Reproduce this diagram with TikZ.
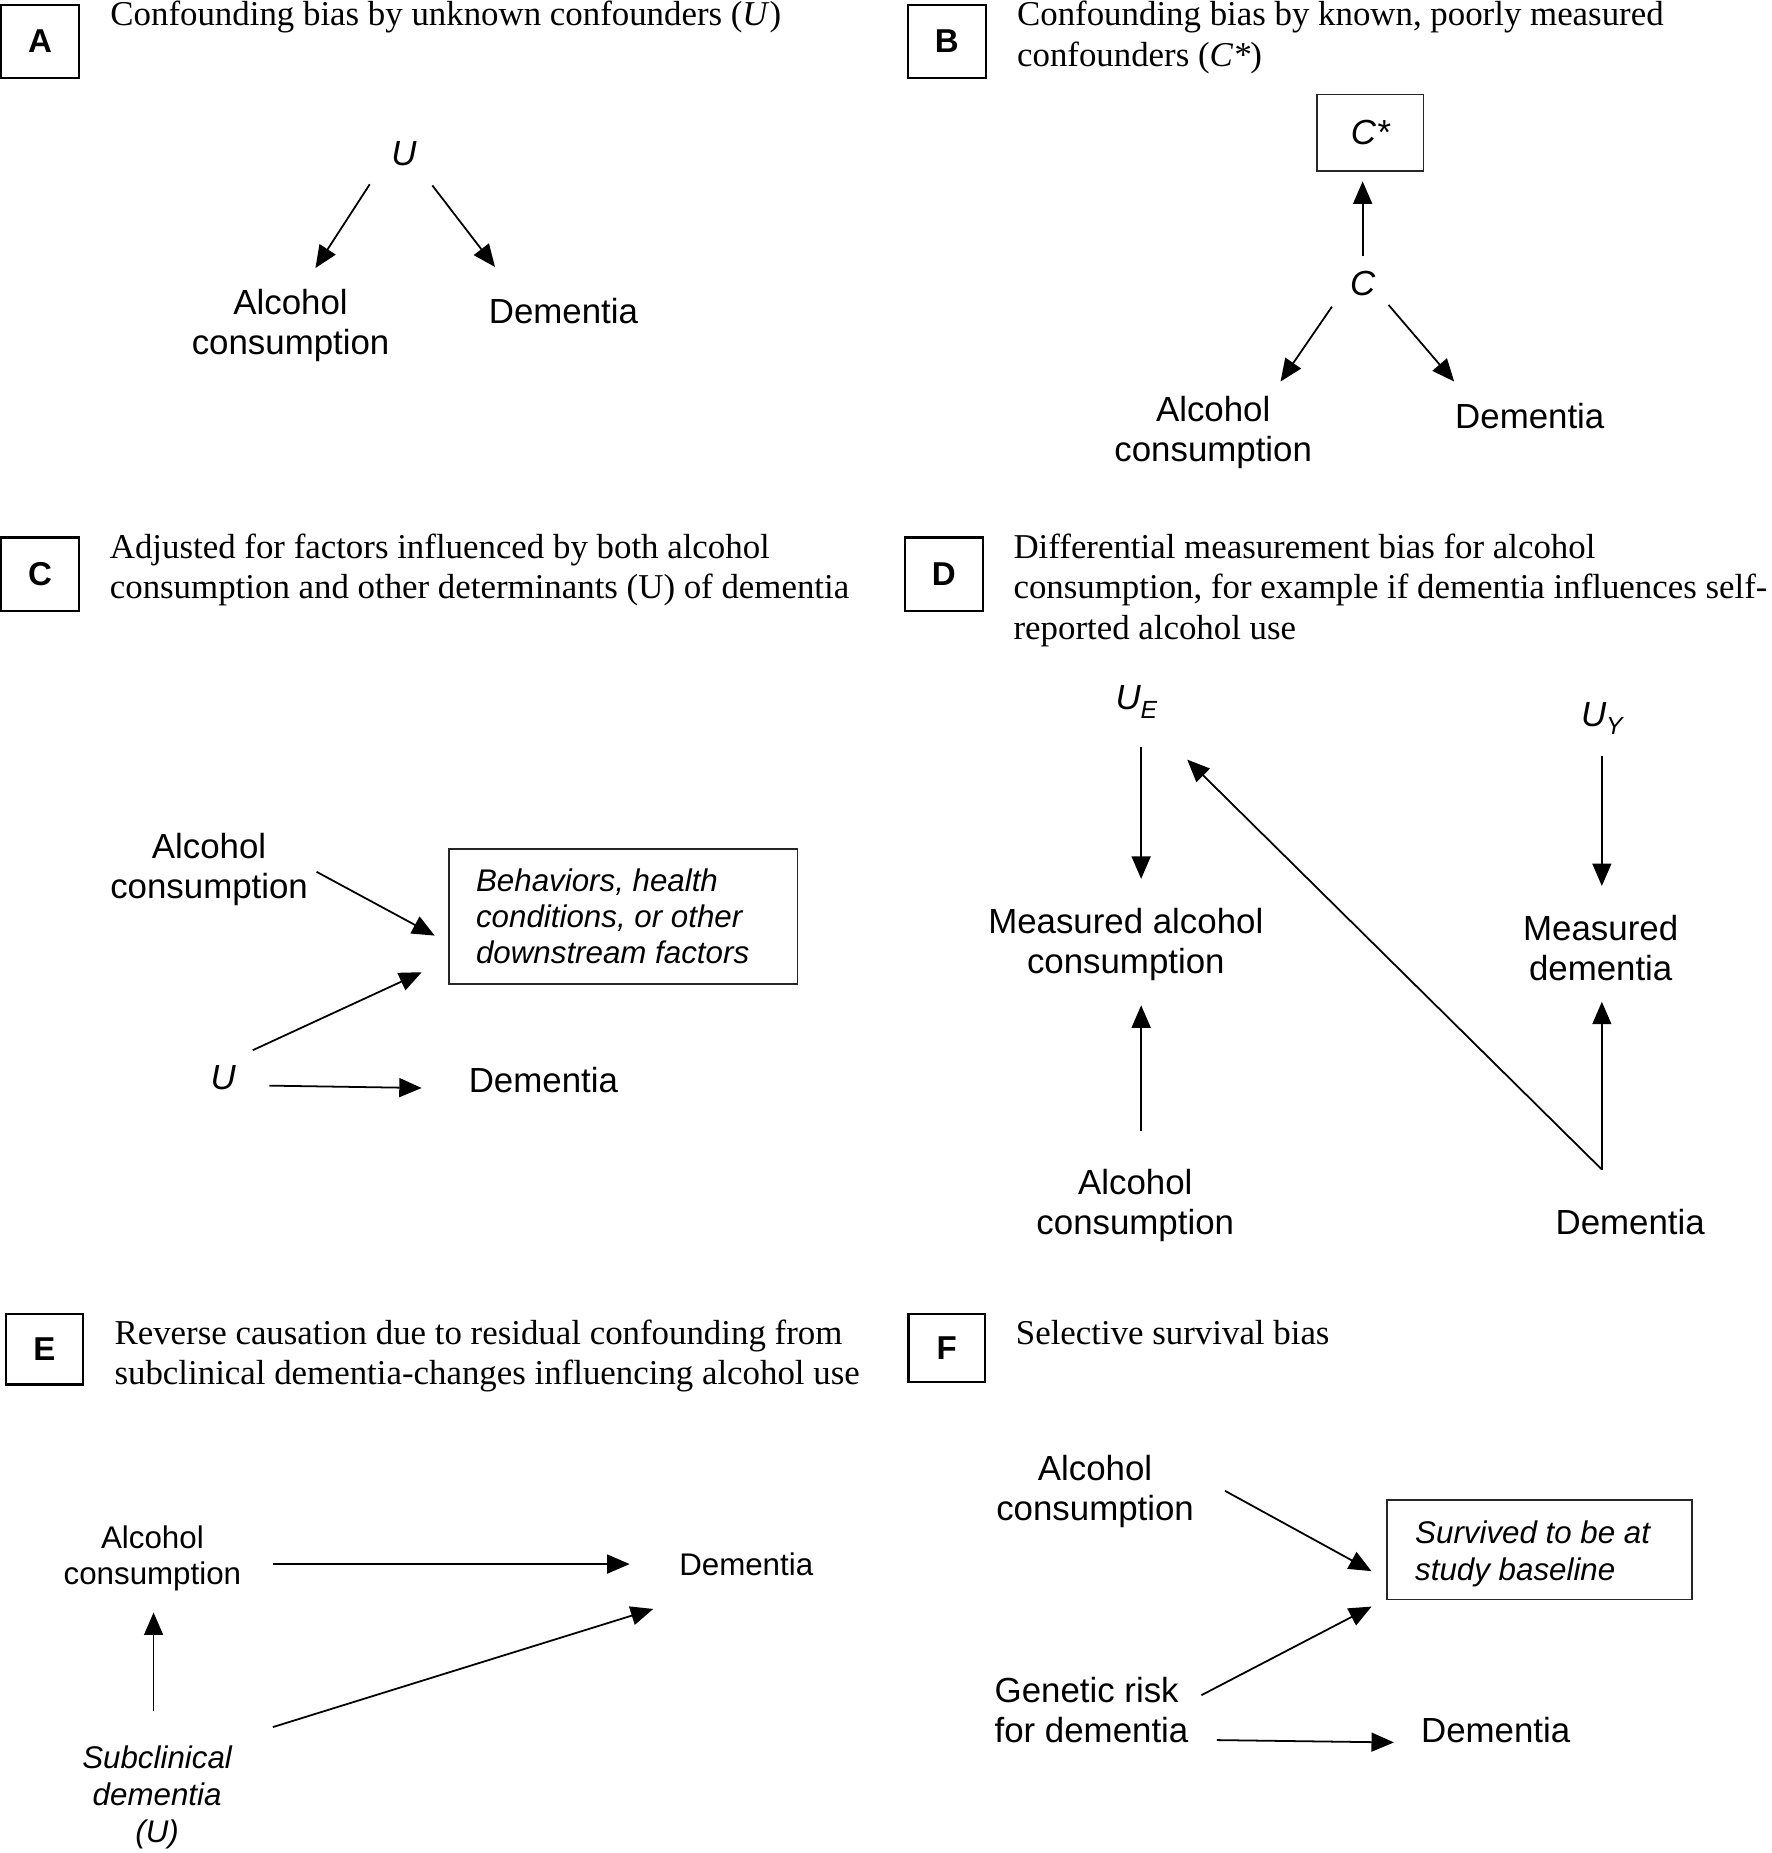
\documentclass[tikz,border=0pt]{standalone}
\usepackage{fontspec}
\setmainfont{Liberation Serif}
\setsansfont{Liberation Sans}
\usetikzlibrary{arrows.meta,calc}
\newcommand{\fsans}{\sffamily\fontsize{29.5}{34}\selectfont}
\newcommand{\fsmall}{\sffamily\fontsize{26.5}{30.5}\selectfont}
\newcommand{\fserif}{\rmfamily\fontsize{29.5}{34}\selectfont}
\newcommand{\mlc}[1]{\begin{tabular}[t]{@{}c@{}}#1\end{tabular}}
\newcommand{\mll}[1]{\begin{tabular}[t]{@{}l@{}}#1\end{tabular}}
\tikzset{
  txt/.style={inner sep=0pt, outer sep=0pt, anchor=base, font=\fsans},
  ttl/.style={inner sep=0pt, outer sep=0pt, anchor=base west, font=\fserif},
  lbl/.style={draw=black, line width=1.8pt, inner sep=0pt, outer sep=0pt,
    minimum width=66pt, minimum height=62pt,
    font=\sffamily\bfseries\fontsize{28}{32}\selectfont},
  bx/.style={draw=black!85, line width=1.5pt, inner ysep=0pt, outer sep=0pt,
    font=\fsmall\itshape},
  arr/.style={line width=1.5pt, -{Triangle[length=19pt,width=16pt]}}
}
\begin{document}
\begin{tikzpicture}[x=1pt,y=-1pt]
\useasboundingbox (0,0) rectangle (1500,1568.6);

% ---------------- Panel A ----------------
\node[lbl] (boxA) at (34,35) {A};
\node[ttl] (titA) at (93.5,22) {Confounding bias by unknown confounders (\textit{U})};
\node[txt,font=\fsans\itshape] (uA) at (342,140) {U};
\node[txt] (alcA) at (246,266) {\mlc{Alcohol\\consumption}};
\node[txt] (demA) at (477,274) {Dementia};
\draw[arr] ([shift={(-29,16)}]uA.base) -- ([shift={(21,-39)}]alcA.base);
\draw[arr] ([shift={(24,17)}]uA.base) -- ([shift={(-58,-48)}]demA.base);

% ---------------- Panel B ----------------
\node[lbl] (boxB) at (801.5,35) {B};
\node[ttl] (titB) at (861,22) {\mll{Confounding bias by known, poorly measured\\confounders (\textit{C*})}};
\node[draw=black!85, line width=1.5pt, minimum width=90pt, minimum height=65pt,
  inner sep=0pt, outer sep=0pt, font=\fsans\itshape] (cstar) at (1160,112.5) {C*};
\node[txt,font=\fsans\itshape] (cB) at (1153.5,250) {C};
\node[txt] (alcB) at (1027,357) {\mlc{Alcohol\\consumption}};
\node[txt] (demB) at (1295,362.6) {Dementia};
\draw[arr] ([shift={(0,-33)}]cB.base) -- ([shift={(-6.5,8.5)}]cstar.south);
\draw[arr] ([shift={(-26,9.6)}]cB.base) -- ([shift={(57,-34)}]alcB.base);
\draw[arr] ([shift={(22,8.2)}]cB.base) -- ([shift={(-64,-39.6)}]demB.base);

% ---------------- Panel C ----------------
\node[lbl] (boxC) at (34,486) {C};
\node[ttl] (titC) at (93,473) {\mll{Adjusted for factors influenced by both alcohol\\consumption and other determinants (U) of dementia}};
\node[txt] (alcC) at (177,727) {\mlc{Alcohol\\consumption}};
\node[bx, minimum width=295pt, minimum height=114pt, inner xsep=23pt] (behav) at (527.5,776)
  {\begin{tabular}[t]{@{}p{249pt}@{}}\rule{0pt}{28.15pt}Behaviors, health\\conditions, or other\\downstream factors\end{tabular}};
\node[txt,font=\fsans\itshape] (uC) at (189,922) {U};
\node[txt] (demC) at (460,925) {Dementia};
\draw[arr] ([shift={(91,11)}]alcC.base) -- ([shift={(-12,16)}]behav.west);
\draw[arr] ([shift={(25,-33)}]uC.base) -- ([shift={(-23,-10)}]behav.south west);
\draw[arr] ([shift={(39,-3)}]uC.base) -- ([shift={(-103,-4)}]demC.base);

% ---------------- Panel D ----------------
\node[lbl] (boxD) at (799,486) {D};
\node[ttl] (titD) at (858,473) {\mll{Differential measurement bias for alcohol\\consumption, for example if dementia influences self-\\reported alcohol use}};
\node[txt,font=\fsans\itshape] (ue) at (962,601) {U\raisebox{-7pt}{\fontsize{21}{21}\selectfont E}};
\node[txt,font=\fsans\itshape] (uy) at (1356,615) {U\raisebox{-7pt}{\fontsize{21}{21}\selectfont Y}};
\node[txt] (meas) at (953,790) {\mlc{Measured alcohol\\consumption}};
\node[txt] (mdem) at (1355,796) {\mlc{Measured\\dementia}};
\node[txt] (alcD) at (961,1011) {\mlc{Alcohol\\consumption}};
\node[txt] (demD) at (1380,1045) {Dementia};
\draw[arr] ([shift={(4,31)}]ue.base) -- ([shift={(13,-46)}]meas.base);
\draw[arr] ([shift={(0,25)}]uy.base) -- ([shift={(1,-46)}]mdem.base);
\draw[arr] ([shift={(5,-54)}]alcD.base) -- ([shift={(13,61)}]meas.base);
\draw[arr] ([shift={(-24,-55)}]demD.base) -- ([shift={(1,52)}]mdem.base);
\draw[arr] ([shift={(-24,-55)}]demD.base) -- ([shift={(43,42)}]ue.base);

% ---------------- Panel E ----------------
\node[lbl, minimum width=65pt, minimum height=60pt] (boxE) at (37.5,1142) {E};
\node[ttl] (titE) at (97,1138) {\mll{Reverse causation due to residual confounding from\\subclinical dementia-changes influencing alcohol use}};
\node[txt,font=\fsmall] (alcE) at (129,1311) {\mlc{Alcohol\\consumption}};
\node[txt,font=\fsmall] (demE) at (631.7,1334) {Dementia};
\node[txt,font=\sffamily\itshape\fontsize{26.5}{31.5}\selectfont] (subE) at (133,1497) {\mlc{Subclinical\\dementia\\(U)}};
\draw[arr] ([shift={(102,13)}]alcE.base) -- ([shift={(-98.7,-10)}]demE.base);
\draw[arr] ([shift={(-3,-49)}]subE.base) -- ([shift={(1,54)}]alcE.base);
\draw[arr] ([shift={(98,-35)}]subE.base) -- ([shift={(-78.7,28)}]demE.base);

% ---------------- Panel F ----------------
\node[lbl, minimum width=65pt, minimum height=58pt] (boxF) at (801.5,1141) {F};
\node[ttl] (titF) at (860,1138) {Selective survival bias};
\node[txt] (alcF) at (927,1253) {\mlc{Alcohol\\consumption}};
\node[bx, minimum width=258pt, minimum height=84pt, inner xsep=24pt] (surv) at (1303,1312)
  {\begin{tabular}[t]{@{}p{210pt}@{}}\rule{0pt}{29.65pt}Survived to be at\\study baseline\end{tabular}};
\node[txt, anchor=base west] (gen) at (842,1441) {\mll{Genetic risk\\for dementia}};
\node[txt, anchor=base west] (demF) at (1203,1475) {Dementia};
\draw[arr] ([shift={(110,9)}]alcF.base) -- ([shift={(-13,18)}]surv.west);
\draw[arr] ([shift={(175,-6)}]gen.base west) -- ([shift={(-13,6)}]surv.south west);
\draw[arr] ([shift={(188,32)}]gen.base west) -- ([shift={(-23,0)}]demF.base west);
\end{tikzpicture}
\end{document}
